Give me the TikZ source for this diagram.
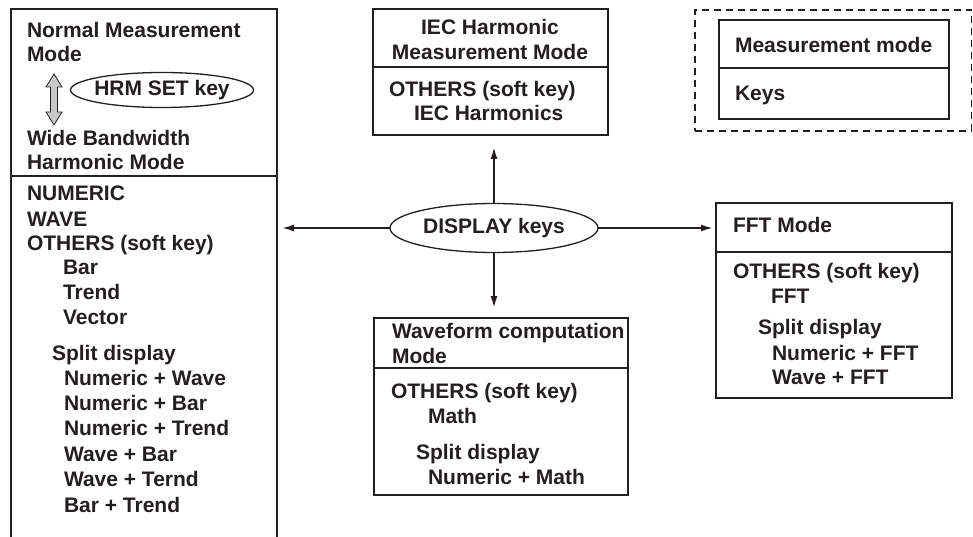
\documentclass[tikz,border=0pt]{standalone}
\usepackage{fontspec}
\setmainfont{Liberation Sans}
\usetikzlibrary{arrows.meta,shapes.geometric}
\definecolor{ink}{HTML}{231F20}
\definecolor{arrowgray}{HTML}{C8C8C8}
\begin{document}
\begin{tikzpicture}[x=1pt,y=-1pt,
  txt/.style={anchor=base west,inner sep=0pt,outer sep=0pt,text=ink,font=\bfseries\fontsize{21}{25}\selectfont},
  ctxt/.style={txt,anchor=base},
  frame/.style={draw=ink,line width=1.6pt,rectangle,inner sep=0pt,outer sep=0pt},
  rule/.style={draw=ink,line width=1.6pt},
  keyoval/.style={draw=ink,ellipse,line width=1.3pt,inner sep=0pt,outer sep=0pt,text=ink,font=\bfseries\fontsize{21}{25}\selectfont},
  conn/.style={draw=ink,line width=1.8pt,-{Latex[length=12pt,width=7pt]}},
  legdash/.style={draw=ink,line width=1.8pt,dash pattern=on 7pt off 5pt,rectangle,inner sep=0pt,outer sep=0pt},
]
\useasboundingbox (0,0) rectangle (973,537);
% divider levels
\coordinate (ldiv) at (0,176);
\coordinate (idiv) at (0,67);
\coordinate (kdiv) at (0,68);
\coordinate (fdiv) at (0,252);
\coordinate (wdiv) at (0,368);

% left box (open at bottom)
\node[inner sep=0pt,outer sep=0pt,minimum width=266pt,minimum height=528pt] (lbox) at (144,273) {};
\draw[rule] (lbox.south west) -- (lbox.north west) -- (lbox.north east) -- (lbox.south east);
\draw[rule] (lbox.west |- ldiv) -- (lbox.east |- ldiv);

% IEC box
\node[frame,minimum width=235pt,minimum height=126pt] (iec) at (490.5,72) {};
\draw[rule] (iec.west |- idiv) -- (iec.east |- idiv);

% legend
\node[legdash,minimum width=276.5pt,minimum height=121pt] (legout) at (833.25,70.5) {};
\node[frame,minimum width=230pt,minimum height=99pt] (legin) at (834,69.5) {};
\draw[rule] (legin.west |- kdiv) -- (legin.east |- kdiv);

% FFT box
\node[frame,line width=2.2pt,minimum width=236pt,minimum height=195pt] (fft) at (834,300.5) {};
\draw[rule] (fft.west |- fdiv) -- (fft.east |- fdiv);

% Waveform box
\node[frame,minimum width=254pt,minimum height=177pt] (wave) at (501,406.5) {};
\draw[rule] (wave.west |- wdiv) -- (wave.east |- wdiv);

% DISPLAY keys
\node[keyoval,minimum width=208pt,minimum height=49pt] (disp) at (494,228) {DISPLAY keys};
\draw[conn,shorten >=5pt] (disp.west) -- (disp.west -| lbox.east);
\draw[conn,shorten >=3pt] (disp.east) -- (disp.east -| fft.west);
\draw[conn,shorten >=12pt] (disp.north) -- (disp.north |- iec.south);
\draw[conn,shorten >=10pt] (disp.south) -- (disp.south |- wave.north);

% HRM SET key
\node[inner sep=0pt,outer sep=0pt,text=ink,font=\bfseries\fontsize{21}{25}\selectfont] (hrm) at (162,90) {HRM SET key};
\draw[draw=ink,line width=1.3pt] (hrm.center) ellipse [x radius=91.5, y radius=17.5];
\draw[draw=ink,fill=arrowgray,line width=0.8pt] (54,74) -- (62,87) -- (57.5,87) -- (57.5,112) -- (62,112) -- (54,125) -- (46,112) -- (50.5,112) -- (50.5,87) -- (46,87) -- cycle;

% left texts
\node[txt] (nm1) at (27,38) {Normal Measurement};
\node[txt] (nm2) at (27,62) {Mode};
\node[txt] (wb1) at (27,146) {Wide Bandwidth};
\node[txt] (wb2) at (27,170) {Harmonic Mode};
\node[txt] (l1) at (27,201) {NUMERIC};
\node[txt] (l2) at (27,226) {WAVE};
\node[txt] (l3) at (27,251) {OTHERS (soft key)};
\node[txt] (l4) at (63,274) {Bar};
\node[txt] (l5) at (63,299) {Trend};
\node[txt] (l6) at (63,324) {Vector};
\node[txt] (l7) at (52,360) {Split display};
\node[txt] (l8) at (64,385) {Numeric + Wave};
\node[txt] (l9) at (64,410) {Numeric + Bar};
\node[txt] (l10) at (64,435) {Numeric + Trend};
\node[txt] (l11) at (64,461) {Wave + Bar};
\node[txt] (l12) at (64,486) {Wave + Ternd};
\node[txt] (l13) at (64,512) {Bar + Trend};

% IEC texts
\node[ctxt] (i1) at (490,35) {IEC Harmonic};
\node[ctxt] (i2) at (490,60) {Measurement Mode};
\node[txt] (i3) at (389,97) {OTHERS (soft key)};
\node[txt] (i4) at (414,121) {IEC Harmonics};

% legend texts
\node[txt] (k1) at (735,53) {Measurement mode};
\node[txt] (k2) at (735,101) {Keys};

% FFT texts
\node[txt] (f1) at (733,233) {FFT Mode};
\node[txt] (f2) at (733,278) {OTHERS (soft key)};
\node[txt] (f3) at (771,303) {FFT};
\node[txt] (f4) at (758,334) {Split display};
\node[txt] (f5) at (772,360) {Numeric + FFT};
\node[txt] (f6) at (772,384) {Wave + FFT};

% Waveform texts
\node[txt] (w1) at (392,338) {Waveform computation};
\node[txt] (w2) at (392,363) {Mode};
\node[txt] (w3) at (391,398) {OTHERS (soft key)};
\node[txt] (w4) at (428,423) {Math};
\node[txt] (w5) at (416,459) {Split display};
\node[txt] (w6) at (428,484) {Numeric + Math};
\end{tikzpicture}
\end{document}
